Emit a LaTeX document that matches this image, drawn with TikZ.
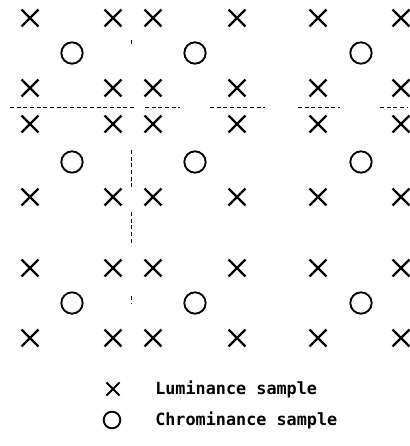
\documentclass[tikz,border=0pt]{standalone}
\usepackage{fontspec}
\setmonofont{DejaVu Sans Mono}
\usetikzlibrary{shapes.misc}
\begin{document}
\begin{tikzpicture}[x=0.75pt,y=-0.75pt,
  luma/.style={cross out,draw,line width=1.7pt,minimum size=11pt,inner sep=0pt},
  chroma/.style={circle,draw,line width=1.4pt,minimum size=16pt,inner sep=0pt},
  lumaleg/.style={cross out,draw,line width=1.4pt,minimum size=8.5pt,inner sep=0pt},
  chromaleg/.style={circle,draw,line width=1.4pt,minimum size=12.5pt,inner sep=0pt},
  legtext/.style={anchor=west,inner sep=0pt,font=\ttfamily\bfseries\fontsize{12.6}{14}\selectfont},
  guide/.style={line width=0.6pt,dash pattern=on 3pt off 2pt}]
\useasboundingbox (0,0) rectangle (410,446);
% luminance samples
\foreach \y [count=\r] in {18,88,124,197,268,338}{
  \foreach \x [count=\c] in {30,113,153,237,318,401}{
    \node[luma] (l-\r-\c) at (\x,\y) {};
  }
}
% chrominance samples
\foreach \y [count=\r] in {53,162,303}{
  \foreach \x [count=\c] in {72,195,361}{
    \node[chroma] (c-\r-\c) at (\x,\y) {};
  }
}
% guide lines (broken dashed)
\coordinate (h0) at (10,107);
\coordinate (h1) at (135,107);
\coordinate (h2) at (145,107);
\coordinate (h3) at (180,107);
\coordinate (h4) at (210,107);
\coordinate (h5) at (265,107);
\coordinate (h6) at (298,107);
\coordinate (h7) at (340,107);
\coordinate (h8) at (380,107);
\coordinate (h9) at (407,107);
\draw[guide] (h0) -- (h1);
\draw[guide] (h2) -- (h3);
\draw[guide] (h4) -- (h5);
\draw[guide] (h6) -- (h7);
\draw[guide] (h8) -- (h9);
\coordinate (v0) at (131,40);
\coordinate (v1) at (131,46);
\coordinate (v2) at (131,150);
\coordinate (v3) at (131,190);
\coordinate (v4) at (131,212);
\coordinate (v5) at (131,245);
\coordinate (v6) at (131,296);
\coordinate (v7) at (131,304);
\draw[guide] (v0) -- (v1);
\draw[guide] (v2) -- (v3);
\draw[guide] (v4) -- (v5);
\draw[guide] (v6) -- (v7);
% legend
\node[lumaleg] (legl) at (113,389) {};
\node[chromaleg] (legc) at (112,420) {};
\node[legtext] (tl) at (155,389) {Luminance sample};
\node[legtext] (tc) at (155,420) {Chrominance sample};
\end{tikzpicture}
\end{document}
